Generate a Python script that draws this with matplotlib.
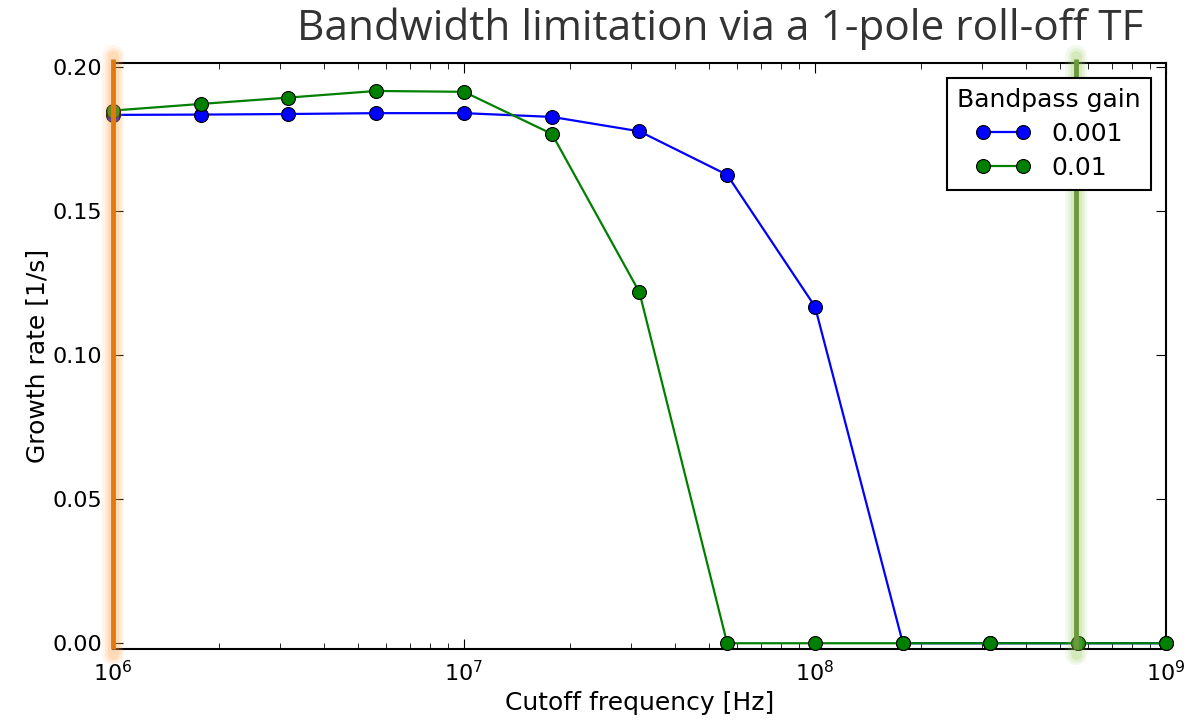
import numpy as np
import matplotlib.pyplot as plt
import matplotlib.transforms as mtransforms

# Cutoff frequencies (4 points per decade)
cutoff_hz = [1.0e6, 1.78e6, 3.16e6, 5.62e6, 1.0e7, 1.78e7, 3.16e7, 5.62e7,
             1.0e8, 1.78e8, 3.16e8, 5.62e8, 1.0e9]

# Growth rate for each bandpass gain
gain_labels = ["0.001", "0.01"]
rate_g001 = [0.1833, 0.1834, 0.1836, 0.1839, 0.1839, 0.1826, 0.1776, 0.1625,
             0.1168, 0.0, 0.0, 0.0, 0.0]
rate_g01 = [0.1848, 0.1871, 0.1893, 0.1916, 0.1913, 0.1767, 0.1218, 0.0,
            0.0, 0.0, 0.0, 0.0, 0.0]

# Highlighted frequencies
marker_orange = 1.0e6
marker_green = 5.55e8

fig = plt.figure(figsize=(12.04, 7.28), dpi=100)
ax = fig.add_axes([113 / 1204, 1 - 649 / 728, (1166 - 113) / 1204, (649 - 63) / 728])

ax.plot(cutoff_hz, rate_g001, '-o', color='#0000ff', mfc='#0000ff', mec='black',
        mew=0.8, ms=10, lw=1.6, label=gain_labels[0], clip_on=False, zorder=3)
ax.plot(cutoff_hz, rate_g01, '-o', color='#008000', mfc='#008000', mec='black',
        mew=0.8, ms=10, lw=1.6, label=gain_labels[1], clip_on=False, zorder=3)

# glowing vertical markers
trans = mtransforms.blended_transform_factory(ax.transData, ax.transAxes)
def glow_line(x, core, glow):
    for w, a in [(16, 0.10), (12, 0.15), (8, 0.22)]:
        ax.plot([x, x], [-0.008, 1.012], color=glow, lw=w, alpha=a,
                transform=trans, clip_on=False, solid_capstyle='round', zorder=4)
    ax.plot([x, x], [0.0, 1.006], color=core, lw=3.5, transform=trans,
            clip_on=False, solid_capstyle='butt', zorder=5)

glow_line(marker_orange, '#e07b12', '#ffa64d')
glow_line(marker_green, '#6b9a3c', '#9ccc60')

ax.set_xscale('log')
ax.set_xlim(1e6, 1e9)
ax.set_ylim(-0.002, 0.2013)
ax.set_yticks([0.0, 0.05, 0.10, 0.15, 0.20])
ax.set_yticklabels(["0.00", "0.05", "0.10", "0.15", "0.20"])

ax.tick_params(which='both', direction='in', top=True, right=True, labelsize=16,
               pad=8)
ax.tick_params(which='major', length=7)
ax.tick_params(which='minor', length=4)
for s in ax.spines.values():
    s.set_linewidth(1.5)

ax.set_xlabel("Cutoff frequency [Hz]", fontsize=18, labelpad=4)
ax.set_ylabel("Growth rate [1/s]", fontsize=18, labelpad=2)

leg = ax.legend(title="Bandpass gain", loc='upper right', fontsize=18,
                title_fontsize=18, numpoints=2, fancybox=False, framealpha=1,
                edgecolor='black', borderaxespad=0.6, handlelength=2.2,
                labelspacing=0.4)
leg.get_frame().set_linewidth(1.5)

fig.text(1143 / 1204, 1 - 29 / 728, "Bandwidth limitation via a 1-pole roll-off TF",
         ha='right', va='center', fontsize=30.5, color='#333333', family='Open Sans')

fig.savefig("out.png", dpi=100)
